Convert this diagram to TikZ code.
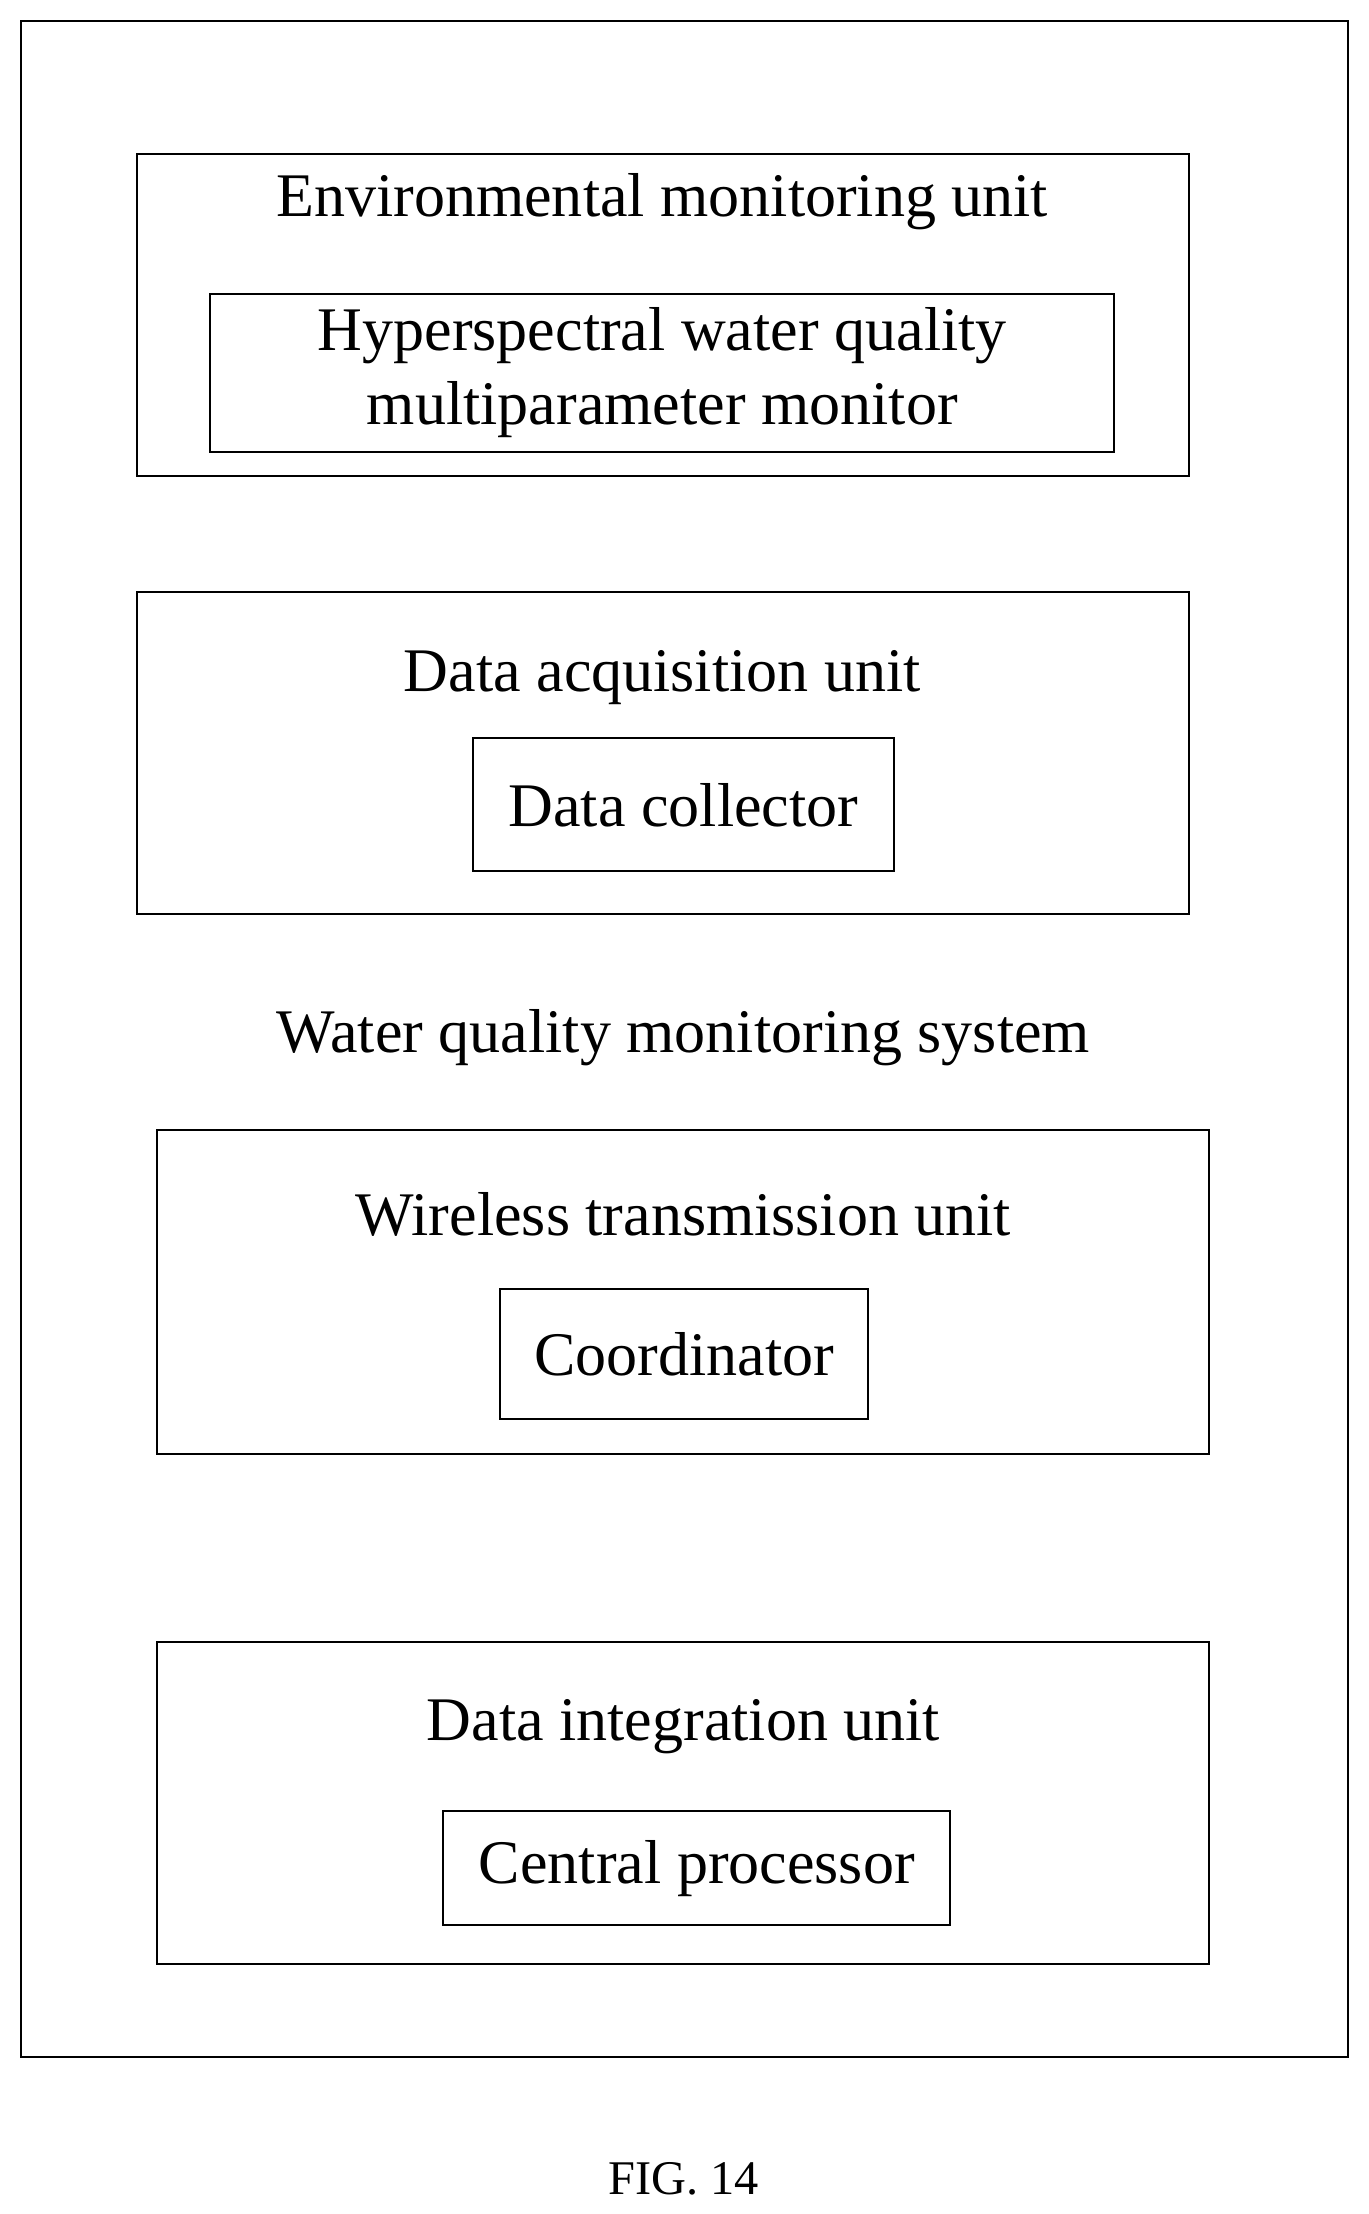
\documentclass[tikz,border=0pt]{standalone}
\usepackage{fontspec}
\setmainfont{Liberation Serif}
\usetikzlibrary{positioning}
\begin{document}
\begin{tikzpicture}[x=0.02cm,y=-0.02cm]
 \tikzstyle{frame}=[draw, line width=0.8pt, inner sep=0pt]
 \tikzstyle{label}=[font=\fontsize{25}{30}\selectfont, align=center, inner sep=0pt]
 \useasboundingbox (0,0) rectangle (969,1568);

 % outer system frame
 \node[frame, minimum width=940*0.02cm, minimum height=1442*0.02cm] (sys) at (485,736) {};
 \node[label] (syslbl) at (484,735) {Water quality monitoring system};

 % environmental monitoring unit
 \node[frame, minimum width=745*0.02cm, minimum height=228*0.02cm] (env) at (469.5,223) {};
 \node[label] (envlbl) at (469,143) {Environmental monitoring unit};
 \node[frame, minimum width=640*0.02cm, minimum height=112*0.02cm, label] (hyper) at (469,264)
   {Hyperspectral water quality\\multiparameter monitor};

 % data acquisition unit
 \node[frame, minimum width=745*0.02cm, minimum height=228*0.02cm] (acq) at (469.5,533) {};
 \node[label] (acqlbl) at (469,480) {Data acquisition unit};
 \node[frame, minimum width=298*0.02cm, minimum height=94*0.02cm, label] (coll) at (484,570) {Data collector};

 % wireless transmission unit
 \node[frame, minimum width=745*0.02cm, minimum height=230*0.02cm] (wl) at (483.5,915) {};
 \node[label] (wllbl) at (484,860) {Wireless transmission unit};
 \node[frame, minimum width=261*0.02cm, minimum height=92*0.02cm, label] (coord) at (484.5,959) {Coordinator};

 % data integration unit
 \node[frame, minimum width=745*0.02cm, minimum height=228*0.02cm] (intg) at (483.5,1277) {};
 \node[label] (intglbl) at (484,1223) {Data integration unit};
 \node[frame, minimum width=359*0.02cm, minimum height=81*0.02cm, label] (cpu) at (493.5,1323) {Central processor};

 \node[font=\fontsize{19.5}{23}\selectfont] (fig) at (484,1543) {FIG. 14};
\end{tikzpicture}
\end{document}
